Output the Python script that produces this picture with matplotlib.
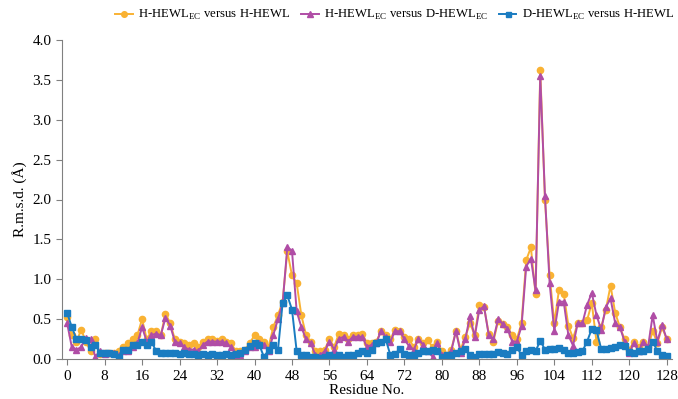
import matplotlib
matplotlib.use("Agg")
from matplotlib import pyplot as plt

plt.rcParams['font.family'] = ['Liberation Serif', 'DejaVu Serif']
plt.rcParams['mathtext.fontset'] = 'custom'
plt.rcParams['mathtext.rm'] = 'Liberation Serif'

# residue index 0..128
residues = list(range(129))

# H-HEWL_EC versus H-HEWL
h_ec_vs_h = [
    0.53, 0.30, 0.22, 0.37, 0.22, 0.10, 0.25, 0.06, 0.08, 0.08,
    0.08, 0.10, 0.15, 0.20, 0.25, 0.30, 0.50, 0.25, 0.35, 0.35,
    0.30, 0.57, 0.45, 0.25, 0.22, 0.20, 0.18, 0.20, 0.15, 0.22,
    0.25, 0.25, 0.23, 0.25, 0.22, 0.20, 0.10, 0.10, 0.12, 0.20,
    0.30, 0.25, 0.22, 0.15, 0.40, 0.55, 0.72, 1.35, 1.05, 0.95,
    0.55, 0.30, 0.22, 0.10, 0.10, 0.12, 0.25, 0.15, 0.32, 0.30,
    0.25, 0.30, 0.30, 0.32, 0.20, 0.20, 0.22, 0.35, 0.30, 0.25,
    0.37, 0.35, 0.28, 0.25, 0.15, 0.25, 0.20, 0.24, 0.15, 0.22,
    0.10, 0.05, 0.12, 0.35, 0.12, 0.28, 0.45, 0.30, 0.68, 0.65,
    0.32, 0.22, 0.48, 0.44, 0.40, 0.30, 0.25, 0.45, 1.24, 1.40,
    0.81, 3.62, 2.00, 1.05, 0.45, 0.87, 0.82, 0.42, 0.26, 0.45,
    0.45, 0.49, 0.70, 0.22, 0.40, 0.62, 0.92, 0.58, 0.40, 0.25,
    0.12, 0.22, 0.15, 0.22, 0.15, 0.35, 0.20, 0.40, 0.25,
]

# H-HEWL_EC versus D-HEWL_EC
h_ec_vs_d_ec = [
    0.45, 0.15, 0.12, 0.15, 0.27, 0.25, 0.03, 0.10, 0.07, 0.08,
    0.08, 0.05, 0.10, 0.10, 0.15, 0.20, 0.40, 0.22, 0.30, 0.32,
    0.30, 0.52, 0.42, 0.22, 0.20, 0.15, 0.12, 0.12, 0.10, 0.18,
    0.22, 0.22, 0.22, 0.22, 0.20, 0.15, 0.05, 0.05, 0.10, 0.15,
    0.15, 0.20, 0.18, 0.10, 0.30, 0.50, 0.70, 1.40, 1.36, 0.60,
    0.40, 0.25, 0.20, 0.05, 0.05, 0.10, 0.22, 0.12, 0.25, 0.28,
    0.22, 0.28, 0.28, 0.28, 0.15, 0.18, 0.20, 0.35, 0.28, 0.22,
    0.35, 0.35, 0.25, 0.16, 0.12, 0.25, 0.18, 0.10, 0.03, 0.20,
    0.05, 0.05, 0.10, 0.35, 0.08, 0.25, 0.54, 0.28, 0.62, 0.66,
    0.30, 0.25, 0.50, 0.44, 0.38, 0.22, 0.22, 0.41, 1.16, 1.26,
    0.86, 3.55, 2.05, 0.95, 0.35, 0.72, 0.72, 0.30, 0.17, 0.45,
    0.45, 0.68, 0.83, 0.55, 0.37, 0.65, 0.76, 0.45, 0.40, 0.22,
    0.08, 0.20, 0.10, 0.22, 0.15, 0.55, 0.22, 0.43, 0.25,
]

# D-HEWL_EC versus H-HEWL
d_ec_vs_h = [
    0.58, 0.40, 0.25, 0.25, 0.24, 0.15, 0.18, 0.08, 0.08, 0.08,
    0.07, 0.03, 0.12, 0.12, 0.18, 0.18, 0.21, 0.18, 0.22, 0.10,
    0.08, 0.08, 0.08, 0.08, 0.07, 0.08, 0.07, 0.07, 0.05, 0.07,
    0.05, 0.06, 0.05, 0.05, 0.06, 0.05, 0.06, 0.08, 0.12, 0.16,
    0.20, 0.18, 0.03, 0.11, 0.18, 0.11, 0.70, 0.80, 0.62, 0.10,
    0.05, 0.05, 0.03, 0.03, 0.02, 0.03, 0.05, 0.03, 0.05, 0.03,
    0.05, 0.05, 0.08, 0.10, 0.08, 0.12, 0.20, 0.22, 0.25, 0.05,
    0.06, 0.13, 0.06, 0.05, 0.05, 0.08, 0.10, 0.10, 0.12, 0.10,
    0.03, 0.05, 0.05, 0.08, 0.10, 0.13, 0.05, 0.03, 0.07, 0.07,
    0.06, 0.07, 0.09, 0.08, 0.07, 0.12, 0.15, 0.05, 0.10, 0.11,
    0.10, 0.23, 0.12, 0.13, 0.13, 0.14, 0.12, 0.08, 0.08, 0.09,
    0.10, 0.22, 0.38, 0.36, 0.13, 0.13, 0.14, 0.15, 0.18, 0.16,
    0.09, 0.08, 0.10, 0.10, 0.13, 0.22, 0.10, 0.05, 0.04,
]

x_ticks = list(range(0, 129, 8))
y_ticks = [0.0, 0.5, 1.0, 1.5, 2.0, 2.5, 3.0, 3.5, 4.0]

fig = plt.figure(figsize=(6.78, 3.99), dpi=100)
ax = fig.add_axes([0.0914, 0.10, 0.8996, 0.80])

ax.plot(residues, h_ec_vs_h, color='#F9B233', marker='o', markersize=4.5,
        linewidth=1.4, label=r'H-HEWL$_{\mathrm{EC}}$ versus H-HEWL')
ax.plot(residues, h_ec_vs_d_ec, color='#B04DA6', marker='^', markersize=5,
        linewidth=1.4, label=r'H-HEWL$_{\mathrm{EC}}$ versus D-HEWL$_{\mathrm{EC}}$')
ax.plot(residues, d_ec_vs_h, color='#1A7CC1', marker='s', markersize=4,
        linewidth=1.4, label=r'D-HEWL$_{\mathrm{EC}}$ versus H-HEWL')

ax.set_xlim(-1.1, 129.1)
ax.set_ylim(0, 4.0)
ax.set_xticks(x_ticks)
ax.set_yticks(y_ticks)
ax.set_yticklabels(['%.1f' % v for v in y_ticks])
ax.tick_params(labelsize=11, colors='#808080', labelcolor='black', direction='out', length=4)
ax.spines['top'].set_visible(False)
ax.spines['right'].set_visible(False)
ax.spines['left'].set_color('#808080')
ax.spines['bottom'].set_color('#808080')
ax.set_xlabel('Residue No.', fontsize=11, labelpad=1)
ax.set_ylabel('R.m.s.d. (Å)', fontsize=11)

fig.legend(loc='upper center', bbox_to_anchor=(0.582, 1.008), ncol=3, frameon=False,
           fontsize=9.2, handlelength=1.4, handletextpad=0.4, columnspacing=0.8,
           markerscale=0.9)

fig.savefig('out.png', dpi=100)
